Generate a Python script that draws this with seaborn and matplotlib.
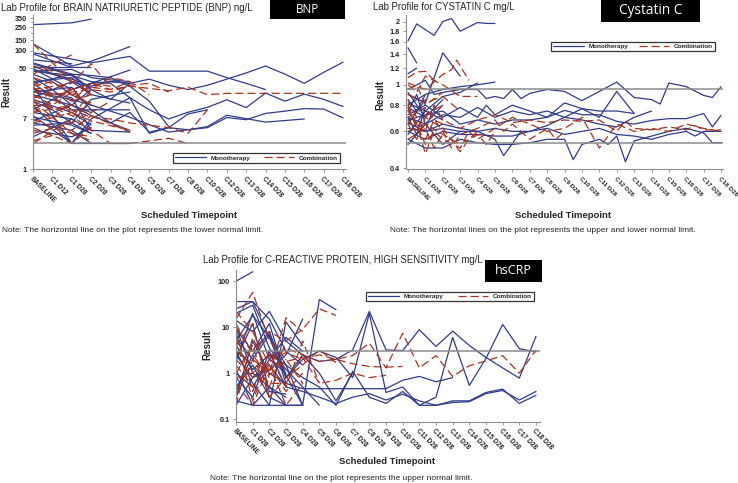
import matplotlib
matplotlib.use('Agg')

import numpy as np
import pandas as pd
import seaborn as sns
from matplotlib import pyplot as plt
from matplotlib.lines import Line2D
from matplotlib.patches import Rectangle
from matplotlib.ticker import FixedLocator, NullLocator, NullFormatter
from matplotlib.transforms import ScaledTranslation

# ---- data: BNP (one value per scheduled timepoint, None = no visit) ----
bnp_labels = ["BASELINE", "C1 D12", "C1 D28", "C2 D28", "C3 D28", "C4 D28", "C5 D28",
              "C7 D28", "C8 D28", "C10 D28", "C12 D28", "C13 D28", "C14 D28", "C15 D28",
              "C16 D28", "C17 D28", "C18 D28"]
bnp_mono = [
    [275, None, 295, 340],
    [130, None, 55, 66, None, 117],
    [92, None, 72, 62, None, 80, 45, 45, 45, 45, 35, 28, 22],
    [88, None, 52, 52],
    [60, None, 38, 22, 15, 28, 33, 26, 22, 26, 33, 42, 55, 40, 28, 43, 64],
    [45, None, 38, 30, 28, 16, 10, 7, 9.1, 11, 14.8, 10.9, 19.2, 14, 18.4, 15, 11.4],
    [35, 22, 12, 8, 6, 9, 4.2, 5.0, 4.6, 5.0, 7.4, 6.8, 8.7, 9.5, 10.5, 10.3, 7.3],
    [20, None, 15, 12, None, 7.5, None, 4.2, 4.6, 5.2, 8.1, None, 6.2, None, 7.0],
    [28, None, 40, 38, 35, 25, 14, 5.2],
    [62, None, 40, 22],
    [55, None, 30, 18, None, 13],
    [48, None, 33, 25, 30, 28],
    [40, 30, 18, 12],
    [28, None, 10, 10, 10, 10],
    [25, None, 2.7, 6],
    [22, None, 16, 4.5],
    [18, None, 12, 22],
    [15, None, 9, 5.5],
    [12, None, 2.7, 2.7, 2.7, 2.7],
    [9, None, 7, 4.5, None, 4.2],
    [7.5, None, 5.5, 4.0],
    [6.5, None, 12, 9],
    [5.5, None, 6, 15, None, 20],
    [4.5, None, 3.5, 5],
    [3.5, 5, 7],
    [10, None, 22, 28, 30, 28],
    [16, None, 30, 24],
    [45, None, 48, 35, 32, 30],
    [30, None, 35, 18],
    [8, None, 2.7, 7, None, 16, 4.0, 5.0, 8.5, 10],
    [20, None, 24, 10, 6, 4.5],
    [52, 52, 52],
    [70, None, 60],
    [14, 10, 6, 4],
    [6, None, 4.5, 2.7],
    [50, None, 22, 28, None, 47],
]
bnp_combo = [
    [40, None, 85],
    [22, None, 28, 60, 24],
    [20, None, 18, 24, 22, 25, 23, 21, 24, 18, 19, 19, 19, 19, 19, 19, 19],
    [12, None, 10, 7.5, 7, 6, 5.5, 5, 4.0, 10],
    [15, None, 8, 4.5, 2.7, 2.7, None, 3.3, 2.7],
    [130, None, 30, 18],
    [30, None, 14, 28, 22, 30, 18],
    [24, 16, 9, 6.5, None, 4.5],
    [18, 12, 20, 12],
    [14, None, 4.0, 3.0],
    [11, 7, 14, 18],
    [9, None, 12, 8, None, 4.2],
    [7, 5, 4, 3.5],
    [6, None, 9, 12],
    [5, None, 2.7, 5],
    [4, None, 6, 9, 14],
    [3, None, 4.5, 8],
    [2.7, None, 7, 22, 35, 30],
    [25, 30, 18, 13],
    [35, None, 22, 28, 25],
    [16, None, 20, 22, 20, 26, 28, 20],
    [55, 45, 30],
    [9, 14, 24],
]
bnp_limits = [2.7]

# ---- data: Cystatin C (visit position, value); half positions are mid-cycle visits ----
cys_labels = ["BASELINE"] + [f"C{i} D28" for i in range(1, 19)]
cys_mono = [
    [(0, 1.62), (0.5, 1.95), (1.5, 1.72), (2, 2.0), (2.5, 2.07), (3, 1.8), (4, 1.98), (4.5, 1.96), (5, 1.96)],
    [(0, 1.5), (0.5, 1.27)],
    [(0, 1.13), (0.5, 1.2)],
    [(0, 0.9), (1, 0.82), (2, 1.42), (3, 1.1)],
    [(0, 0.82), (1, 0.75), (2, 0.88), (3, 0.92), (4, 1.02)],
    [(0, 0.95), (1, 1.05), (1.5, 0.9), (2, 0.92), (3, 0.95), (4, 0.95), (4.5, 0.86), (5, 0.88),
     (5.5, 0.86), (6, 0.95), (6.5, 0.86), (7, 0.91), (8, 0.95), (9, 0.93), (10, 0.84), (11, 0.93),
     (12, 1.03), (13, 0.87), (14, 0.85), (14.5, 0.81), (15, 1.02), (16, 0.98), (17, 0.89),
     (17.5, 0.87), (18, 0.98)],
    [(0, 0.8), (1, 0.9), (2, 0.95), (3, 0.98), (4, 1.0), (5, 1.03)],
    [(0, 0.72), (1, 0.8), (2, 0.7), (3, 0.78), (4, 0.7), (4.5, 0.8), (5, 0.72), (6, 0.8), (7, 0.75),
     (8, 0.7), (9, 0.82), (10, 0.77), (11, 0.75), (12, 0.75), (13, 0.73)],
    [(0, 0.7), (1, 0.65), (2, 0.72), (3, 0.7), (4, 0.78), (5, 0.7), (6, 0.75), (7, 0.72), (8, 0.75),
     (9, 0.7), (10, 0.77), (11, 0.7), (12, 0.93), (13, 0.73)],
    [(0, 0.68), (1, 0.72), (2, 0.75), (3, 0.65), (4, 0.68), (5, 0.65), (6, 0.68), (7, 0.68), (8, 0.7),
     (9, 0.755), (10, 0.72), (11, 0.72), (12, 0.67), (13, 0.65), (14, 0.676), (15, 0.69), (16, 0.69),
     (17, 0.73), (17.5, 0.63), (18, 0.715)],
    [(0, 0.62), (1, 0.6), (2, 0.65), (3, 0.62), (4, 0.6), (5, 0.62), (6, 0.6), (7, 0.6), (8, 0.64),
     (9, 0.7), (10, 0.68), (11, 0.65), (12, 0.63), (13, 0.7), (14, 0.75)],
    [(0, 0.55), (1, 0.5), (2, 0.5), (3, 0.55), (4, 0.53), (5, 0.52), (6, 0.52), (7, 0.53), (8, 0.55),
     (9, 0.55), (9.5, 0.44), (10, 0.52), (11, 0.55), (11.5, 0.52), (12, 0.57), (12.5, 0.43), (13, 0.54),
     (14, 0.57), (15, 0.6), (16, 0.62), (17, 0.59), (17.5, 0.53), (18, 0.53)],
    [(0, 0.6), (1, 0.55), (2, 0.6), (3, 0.58), (4, 0.58), (5, 0.57), (6, 0.57), (7, 0.6), (8, 0.62),
     (9, 0.58), (10, 0.6), (11, 0.62), (12, 0.58), (13, 0.57), (14, 0.55), (15, 0.58), (16, 0.6),
     (16.5, 0.57), (17, 0.6), (18, 0.6)],
    [(0, 0.66), (1, 0.6), (2, 0.62), (3, 0.6), (4, 0.6), (5, 0.55), (5.5, 0.46), (6.5, 0.6)],
    [(0, 0.85), (0.5, 0.75), (1, 0.9)],
    [(0, 0.78), (1, 0.7)],
    [(0, 0.75), (0.5, 0.9), (1, 0.65), (2, 0.8)],
    [(0, 0.65), (1, 0.85)],
    [(0, 0.58), (1, 0.75), (2, 0.68)],
    [(0, 0.92), (1, 0.7), (2, 0.85)],
    [(0, 0.7), (0.5, 0.58), (1, 0.78)],
    [(0, 0.52), (1, 0.65), (2, 0.52), (3, 0.6)],
]
cys_combo = [
    [(0, 1.08), (0.5, 1.15), (1, 1.16), (1.5, 1.05)],
    [(0, 1.02), (1, 0.95), (2, 1.12), (2.5, 1.18), (2.8, 1.31), (3.5, 1.05)],
    [(0, 1.0), (0.5, 0.92), (1, 1.1), (2, 1.0), (3, 0.88), (4, 0.88)],
    [(0, 0.85), (0.5, 0.7), (1, 0.6), (1.5, 0.8), (2, 0.68), (3, 0.62), (4, 0.68), (5, 0.72), (6, 0.66),
     (7, 0.68), (8, 0.66), (9, 0.68), (10, 0.67), (11, 0.68), (12, 0.6), (12.5, 0.67), (13, 0.62),
     (14, 0.61), (15, 0.63), (16, 0.61), (16.5, 0.64), (17, 0.61), (18, 0.61)],
    [(0, 0.8), (1, 0.52), (1.5, 0.6), (2, 0.55), (3, 0.5), (3.5, 0.6), (4, 0.55), (5, 0.62), (6, 0.7),
     (7, 0.65), (8, 0.6), (9, 0.62), (10, 0.7), (11, 0.5), (12, 0.65), (13, 0.6), (14, 0.62),
     (15, 0.6), (16, 0.65), (17, 0.62), (18, 0.6)],
    [(0, 0.75), (0.5, 0.65), (1, 0.47), (1.5, 0.6)],
    [(0, 0.7), (1, 0.78), (2, 0.6), (2.5, 0.5), (3, 0.58), (4, 0.62), (5, 0.68), (5.5, 0.6), (6, 0.65),
     (7, 0.55), (8, 0.62), (8.5, 0.55), (9, 0.6)],
    [(0, 0.65), (0.5, 0.55), (1, 0.7), (2, 0.62), (3, 0.48), (3.5, 0.55), (4, 0.6)],
    [(0, 0.6), (1, 0.65), (2, 0.58), (3, 0.52), (4, 0.58), (4.5, 0.52), (5, 0.6)],
    [(0, 0.9), (1, 0.82), (2, 0.88), (3, 0.75)],
    [(0, 0.78), (0.5, 0.62), (1, 0.72), (2, 0.8)],
    [(0, 0.55), (1, 0.62), (1.5, 0.5), (2, 0.58)],
    [(0, 0.95), (0.5, 1.0), (1, 0.8), (2, 0.92)],
    [(0, 0.68), (1, 0.55), (1.5, 0.68), (2, 0.65)],
]
cys_limits = [0.53, 0.95]

# ---- data: hsCRP (one value per scheduled timepoint) ----
crp_labels = ["BASELINE"] + [f"C{i} D28" for i in range(1, 19)]
crp_mono = [
    [100, 160],
    [36, 36, 15, 3.0, 1.5],
    [25, 36, 6, 1.5, 0.2, 40, 24],
    [20, 30, 3.5, 1.2, 0.5, 0.2],
    [14, 8, 22, 5, 2.5, 1.8, 2.0, 3.2, 22, 3.2, 3.1, 8.8, 3.8, 8.2, 4.0, 2.2, 1.3, 0.78, 6.3],
    [9, 3, 12, 0.8, 2.0, 3.0, 2.2, 0.8, 20, 0.38, 0.5, 0.2, 0.3, 6.0, 0.54, 2.1, 11.5, 3.4, 2.9],
    [6, 2, 7, 0.6, 0.46, 0.46, 0.46, 0.46, 0.46, 0.46, 0.7, 0.85, 0.65, 0.8],
    [4, 1.2, 2.5, 1.5, 0.8, 0.5, 0.2, 1.1, 0.3, 0.22, 0.4, 0.2, 0.2, 0.25, 0.25, 0.38, 0.45, 0.22, 0.33],
    [2.5, 0.8, 1.5, 0.5, 0.4, 0.3, 0.22, 0.3, 0.36, 0.26, 0.35, 0.25, 0.2, 0.23, 0.24, 0.36, 0.42, 0.26, 0.4],
    [1.8, 20, 2, 1.0],
    [1.2, 0.2, 0.5, 0.2, 0.2],
    [0.8, 0.3, 3, 0.5],
    [0.5, 1.5, 0.3, 0.2],
    [0.3, 5, 1.0, 0.6],
    [0.25, 0.2, 0.2, 13, 4],
    [2, 12, 0.4, 0.35],
    [3, 0.6, 0.2, 0.2, 0.2],
    [0.4, 2.5, 8, 0.9, 0.2],
    [1.0, 0.5, 2.0, 6, 3],
    [10, 1.0, 0.5, 0.3],
    [0.2, 0.8, 1.2, 2.5, 15],
    [5, 18, 6, 0.8, 2.5, 1.0, 0.25, 1.0],
]
crp_combo = [
    [15, 57, 5, 2, 0.6],
    [22, 8, 1.5, 0.2, 0.6],
    [10, 3, 8, 5, 9, 25, 18],
    [5, 2, 1.0, 16, 8],
    [3, 1.5, 0.6, 0.6, 2.5, 1.8, 2.0, 2.4, 4.5, 1.3, 7.4, 1.3, 2.4, 0.85, 1.45, 1.85, 2.4, 1.0, 3.2],
    [2, 0.8, 1.8, 2.8, 2.0, 2.5, 2.0, 1.6, 1.4, 1.35, 1.4],
    [1.5, 0.5, 1.2, 1.8, 2.2, 0.6, 0.7, 1.0, 0.8, 0.9],
    [1.0, 4, 0.3, 0.8, 1.5, 3.2, 1.7],
    [0.6, 0.2, 1.5, 0.4, 1.0],
    [0.3, 2, 0.5, 5],
    [0.2, 6, 0.9, 2],
    [8, 0.4, 3, 1.2],
    [4, 12, 0.3],
    [0.8, 1.0, 2.5, 0.5, 5, 0.6],
    [12, 2.5, 0.8],
    [6, 0.25, 2, 3.5, 2.5],
]
crp_limits = [3]

MONO = "#2f3c8c"
COMB = "#a8321f"
GRID = "#8c8c8c"
W, H = 738, 483

sns.set_style("ticks")
plt.rcParams['font.family'] = ['Liberation Sans', 'DejaVu Sans']

fig = plt.figure(figsize=(W / 100, H / 100), dpi=100)


def px_box(l, t, r, b):
    return [l / W, 1 - b / H, (r - l) / W, (b - t) / H]


def ftext(x, y, s, **kw):
    fig.text(x / W, 1 - y / H, s, **kw)


def to_frame(mono, combo):
    rows = []
    for arm, lines in (("Monotherapy", mono), ("Combination", combo)):
        for i, line in enumerate(lines):
            if isinstance(line[0], tuple):
                pts = line
            else:
                pts = [(k, v) for k, v in enumerate(line) if v is not None]
            for x, v in pts:
                rows.append((arm, f"{arm}{i}", x, v))
    return pd.DataFrame(rows, columns=["arm", "pid", "visit", "value"])


def draw_panel(box, mono, combo, labels, limits, ylim, yticks, yticklabels, xlim, leg_box,
               minor=None, xfont=4.8):
    ax = fig.add_axes(px_box(*box))
    df = to_frame(mono, combo)
    sns.lineplot(data=df, x="visit", y="value", hue="arm", style="arm", units="pid",
                 estimator=None, sort=False, legend=False, ax=ax, lw=0.9,
                 palette={"Monotherapy": MONO, "Combination": COMB},
                 dashes={"Monotherapy": "", "Combination": (6.5, 3.2)})
    for lim in limits:
        ax.axhline(lim, color=GRID, lw=1.1, zorder=5)
    ax.set_yscale("log")
    ax.set_ylim(*ylim)
    ax.set_xlim(*xlim)
    ax.set_yticks(yticks)
    ax.set_yticklabels(yticklabels, fontsize=5.2, fontweight="bold")
    if minor:
        ax.yaxis.set_minor_locator(FixedLocator(minor))
    else:
        ax.yaxis.set_minor_locator(NullLocator())
    ax.yaxis.set_minor_formatter(NullFormatter())
    ax.set_xticks(range(len(labels)))
    ax.set_xticklabels(labels, rotation=-45, ha="left", va="top", rotation_mode="anchor",
                       fontsize=xfont, fontweight="bold")
    shift = ScaledTranslation(-2.5 / 100, 0, fig.dpi_scale_trans)
    for lab in ax.get_xticklabels():
        lab.set_transform(lab.get_transform() + shift)
    ax.set_xlabel("")
    ax.set_ylabel("")
    ax.tick_params(axis="both", which="both", length=2.5, width=0.6, color=GRID, pad=2)
    ax.tick_params(axis="y", which="minor", length=1.8)
    sns.despine(ax=ax)
    for side in ("left", "bottom"):
        ax.spines[side].set_color(GRID)
        ax.spines[side].set_linewidth(0.8)
    handles = [Line2D([], [], color=MONO, lw=0.9),
               Line2D([], [], color=COMB, lw=0.9, dashes=(6.5, 3.2))]
    leg = ax.legend(handles, ["Monotherapy", "Combination"], ncol=2, loc="center",
                    bbox_to_anchor=px_box(*leg_box), bbox_transform=fig.transFigure,
                    mode="expand", frameon=True, fancybox=False, edgecolor="black",
                    prop={"weight": "bold", "size": 4.6}, handlelength=4.8,
                    borderpad=0.3, columnspacing=0.6, handletextpad=0.7)
    leg.get_frame().set_linewidth(0.9)
    return ax


def tag(l, t, r, b, s, size):
    fig.patches.append(Rectangle((l / W, 1 - b / H), (r - l) / W, (b - t) / H,
                                 transform=fig.transFigure, facecolor="black", edgecolor="none"))
    fig.text((l + r) / 2 / W, 1 - (t + b) / 2 / H, s, color="white", ha="center", va="center",
             fontsize=size, family=["Open Sans", "DejaVu Sans"])


# BNP
draw_panel((33, 15, 346, 169), bnp_mono, bnp_combo, bnp_labels, bnp_limits, (1, 400),
           [1, 7, 50, 100, 150, 250, 350], ["1", "7", "50", "100", "150", "250", "350"],
           (0, 16.15), (170, 152, 343, 164), minor=[200, 300])
ftext(1, 8, "Lab Profile for BRAIN NATRIURETIC PEPTIDE (BNP) ng/L", fontsize=6.9, va="center")
ftext(6, 92, "Result", rotation=90, fontsize=7.0, fontweight="bold", ha="center", va="center")
ftext(189, 215, "Scheduled Timepoint", fontsize=6.8, fontweight="bold", ha="center", va="center")
ftext(2, 230, "Note: The horizontal line on the plot represents the lower normal limit.",
      fontsize=6.0, va="center")
tag(270, 0, 345, 19, "BNP", 8.4)

# Cystatin C
draw_panel((406, 15, 723, 169.5), cys_mono, cys_combo, cys_labels, cys_limits, (0.395, 2.15),
           [0.4, 0.6, 0.8, 1, 1.2, 1.4, 1.6, 1.8, 2],
           ["0.4", "0.6", "0.8", "1", "1.2", "1.4", "1.6", "1.8", "2"],
           (-0.115, 18.11), (548, 40, 718, 53), xfont=4.5)
ftext(373, 7, "Lab Profile for CYSTATIN C mg/L", fontsize=6.9, va="center")
ftext(380, 95, "Result", rotation=90, fontsize=7.0, fontweight="bold", ha="center", va="center")
ftext(563, 215, "Scheduled Timepoint", fontsize=6.8, fontweight="bold", ha="center", va="center")
ftext(390, 230, "Note: The horizontal lines on the plot represents the upper and lower normal limit.",
      fontsize=6.0, va="center")
tag(601, 0, 700, 22, "Cystatin C", 9.8)

# hsCRP
draw_panel((236, 270, 540, 421.7), crp_mono, crp_combo, crp_labels, crp_limits, (0.088, 175),
           [0.1, 1, 10, 100], ["0.1", "1", "10", "100"],
           (0, 18.24), (363, 290, 537, 303))
ftext(203, 260, "Lab Profile for C-REACTIVE PROTEIN, HIGH SENSITIVITY mg/L", fontsize=6.9, va="center")
ftext(207, 345, "Result", rotation=90, fontsize=7.0, fontweight="bold", ha="center", va="center")
ftext(387, 462, "Scheduled Timepoint", fontsize=6.8, fontweight="bold", ha="center", va="center")
ftext(210, 478, "Note: The horizontal line on the plot represents the upper normal limit.",
      fontsize=6.0, va="center")
tag(485, 260, 542, 282, "hsCRP", 9.0)

fig.savefig("out.png", dpi=100)
